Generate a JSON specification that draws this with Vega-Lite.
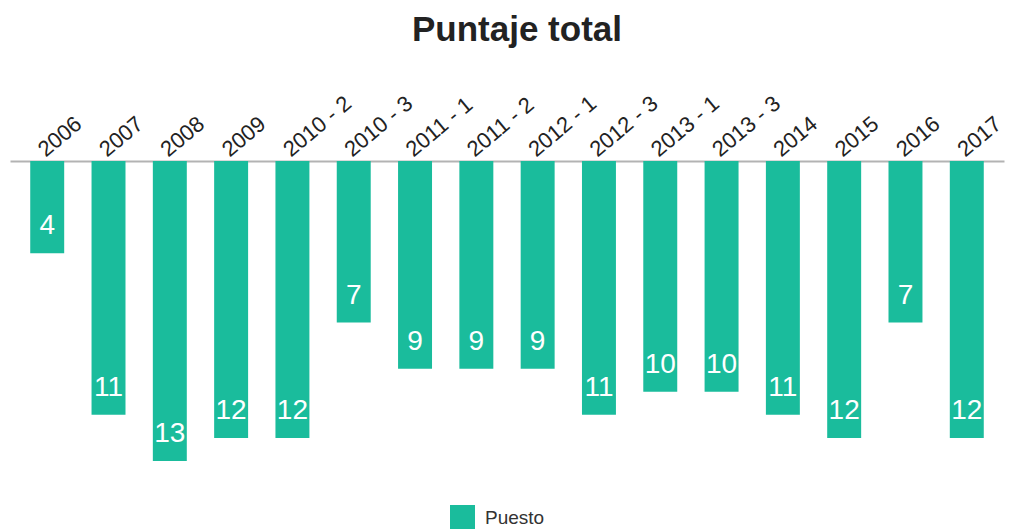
{
  "$schema": "https://vega.github.io/schema/vega-lite/v6.json",
  "width": 994,
  "height": 300,
  "autosize": {"type": "none"},
  "padding": {"left": 10, "top": 161, "right": 7, "bottom": 68},
  "background": "white",
  "title": {
    "text": "Puntaje total",
    "font": "Liberation Sans",
    "fontSize": 35,
    "fontWeight": "bold",
    "color": "#222222",
    "anchor": "middle",
    "dx": 10,
    "offset": 44
  },
  "config": {
    "view": {"stroke": null},
    "font": "Liberation Sans"
  },
  "data": {
    "values": [
      {"periodo": "2006", "puesto": 4},
      {"periodo": "2007", "puesto": 11},
      {"periodo": "2008", "puesto": 13},
      {"periodo": "2009", "puesto": 12},
      {"periodo": "2010 - 2", "puesto": 12},
      {"periodo": "2010 - 3", "puesto": 7},
      {"periodo": "2011 - 1", "puesto": 9},
      {"periodo": "2011 - 2", "puesto": 9},
      {"periodo": "2012 - 1", "puesto": 9},
      {"periodo": "2012 - 3", "puesto": 11},
      {"periodo": "2013 - 1", "puesto": 10},
      {"periodo": "2013 - 3", "puesto": 10},
      {"periodo": "2014", "puesto": 11},
      {"periodo": "2015", "puesto": 12},
      {"periodo": "2016", "puesto": 7},
      {"periodo": "2017", "puesto": 12}
    ]
  },
  "encoding": {
    "x": {
      "field": "periodo",
      "type": "nominal",
      "sort": null,
      "scale": {"paddingInner": 0.446, "paddingOuter": 0.33},
      "axis": {
        "orient": "top",
        "title": null,
        "labelAngle": -40,
        "labelAlign": "left",
        "labelBaseline": "middle",
        "labelFontSize": 22,
        "labelColor": "#222222",
        "labelPadding": 9,
        "labelOffset": -6,
        "labelOverlap": false,
        "labelFont": "Liberation Sans",
        "ticks": false,
        "domainColor": "#b3b3b3",
        "domainWidth": 2
      }
    },
    "y": {
      "field": "puesto",
      "type": "quantitative",
      "scale": {"domain": [0, 13], "reverse": true, "nice": false},
      "axis": null
    }
  },
  "layer": [
    {
      "mark": {"type": "bar", "color": "#1abc9c"},
      "encoding": {
        "color": {
          "datum": "Puesto",
          "type": "nominal",
          "scale": {"range": ["#1abc9c"]},
          "legend": {
            "title": null,
            "orient": "none",
            "legendX": 440,
            "legendY": 344,
            "symbolType": "square",
            "symbolSize": 625,
            "symbolStrokeWidth": 0,
            "labelFontSize": 19,
            "labelColor": "#333333",
            "labelFont": "Liberation Sans",
            "labelOffset": 10
          }
        }
      }
    },
    {
      "mark": {
        "type": "text",
        "color": "white",
        "fontSize": 28,
        "font": "Liberation Sans",
        "align": "center",
        "baseline": "alphabetic",
        "dy": -19
      },
      "encoding": {
        "text": {"field": "puesto", "type": "quantitative"}
      }
    }
  ]
}
